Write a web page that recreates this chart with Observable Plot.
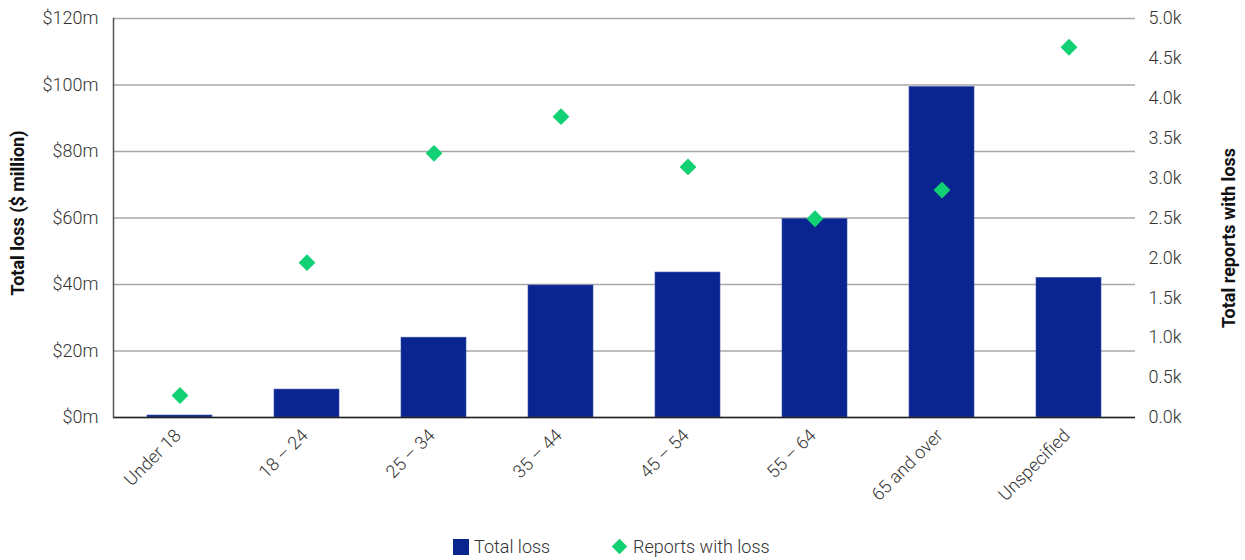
<!DOCTYPE html>
<html>
<head>
<meta charset="utf-8">
<script src="https://cdn.jsdelivr.net/npm/d3@7"></script>
<script src="https://cdn.jsdelivr.net/npm/@observablehq/plot@0.6"></script>
<style>
  body { margin: 0; background: #fff; font-family: Roboto, "Open Sans", sans-serif; }
  #chart svg { display: block; }
  .legend { position: relative; height: 40px; font: 300 18px Roboto, sans-serif; color: #333; }
  .legend .item { position: absolute; top: 16px; display: flex; align-items: center; }
  .legend .swatch { width: 16px; height: 16px; background: #0b2590; margin-right: 5px; }
  .legend .diamond { width: 11px; height: 11px; background: #12d174; transform: rotate(45deg); margin-right: 8px; }
</style>
</head>
<body>
<div id="chart"></div>
<div class="legend">
  <div class="item" style="left:453px"><div class="swatch"></div><span>Total loss</span></div>
  <div class="item" style="left:614px"><div class="diamond"></div><span>Reports with loss</span></div>
</div>
<script>
// Age groups
const ageGroups = ["Under 18", "18 – 24", "25 – 34", "35 – 44", "45 – 54", "55 – 64", "65 and over", "Unspecified"];
// Total loss, $ million
const totalLoss = [0.6, 8.4, 24.0, 39.7, 43.6, 59.7, 99.4, 42.0];
// Number of reports with a loss
const reportsWithLoss = [275, 1940, 3310, 3770, 3140, 2490, 2850, 4640];
// Left axis ticks ($ million) and right axis ticks (reports)
const lossTicks = [0, 20, 40, 60, 80, 100, 120];
const reportTicks = [0, 500, 1000, 1500, 2000, 2500, 3000, 3500, 4000, 4500, 5000];

const lossMax = 120, reportsMax = 5000;
const k = lossMax / reportsMax; // maps reports onto the loss scale

const rows = ageGroups.map((age, i) => ({age, loss: totalLoss[i], reports: reportsWithLoss[i]}));

const navy = "#0b2590", green = "#12d174";

const chart = Plot.plot({
  width: 1245,
  height: 520,
  marginLeft: 113,
  marginRight: 110,
  marginTop: 18,
  marginBottom: 103,
  style: {fontFamily: "Roboto, sans-serif", fontSize: "18px", fontWeight: 300, color: "#333"},
  x: {domain: ageGroups, paddingInner: 0.49, paddingOuter: 0.245, label: null},
  y: {domain: [0, lossMax], label: null},
  marks: [
    Plot.gridY(lossTicks, {stroke: "#a8a8a8", strokeOpacity: 1, strokeWidth: 1.5}),
    Plot.barY(rows, {x: "age", y: "loss", fill: navy, stroke: "#3a52a8", strokeWidth: 0.6}),
    Plot.dot(rows, {x: "age", y: d => d.reports * k, symbol: "diamond2", r: 7.6, fill: green, stroke: "none"}),
    Plot.ruleY([0], {stroke: "#222", strokeWidth: 1.5}),
    Plot.frame({anchor: "left", stroke: "#555", strokeWidth: 1.5}),
    Plot.axisY(lossTicks, {anchor: "left", tickSize: 0, tickPadding: 15, tickFormat: d => `$${d}m`, label: null, fill: "#333"}),
    Plot.axisY(reportTicks.map(v => v * k), {anchor: "right", tickSize: 0, tickPadding: 13, tickFormat: d => (d / k / 1000).toFixed(1) + "k", label: null, fill: "#333"}),
    Plot.axisX({tickSize: 0, tickPadding: 15, tickRotate: -45, dx: -2, label: null, fill: "#333"}),
    Plot.text(["Total loss ($ million)"], {text: d => d, frameAnchor: "left", textAnchor: "middle", dx: -95, dy: -5, rotate: -90, fontWeight: "bold", fontSize: 18, fill: "#111"}),
    Plot.text(["Total reports with loss"], {text: d => d, frameAnchor: "right", textAnchor: "middle", dx: 94, dy: 20, rotate: -90, fontWeight: "bold", fontSize: 18, fill: "#111"})
  ]
});
document.getElementById("chart").append(chart);
</script>
</body>
</html>
